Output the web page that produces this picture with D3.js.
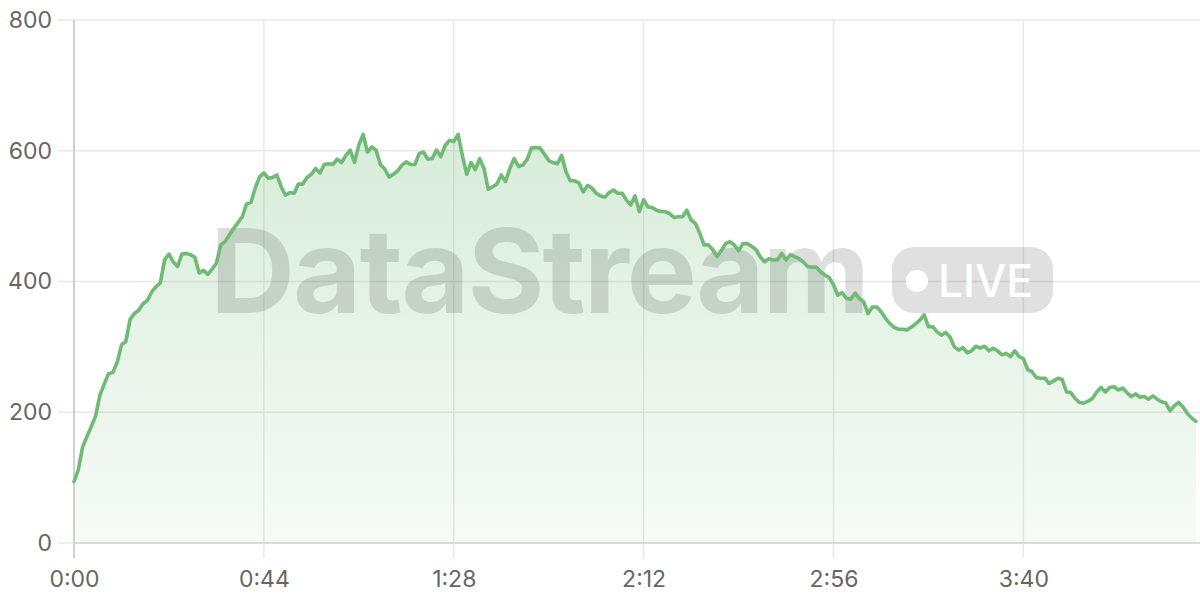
<!DOCTYPE html>
<html>
<head>
<meta charset="utf-8">
<script src="https://cdn.jsdelivr.net/npm/d3@7"></script>
<style>
  body { margin: 0; background: #fff; }
  svg { display: block; font-family: Inter, "Noto Sans", sans-serif; }
</style>
</head>
<body>
<div id="chart"></div>
<script>
// one reading per second, 0:00 .. 4:20
const values = [
  94, 112, 147, 163, 178, 194, 226, 243, 259, 261,
  276, 303, 308, 342, 351, 356, 366, 371, 384, 392,
  398, 433, 442, 430, 423, 442, 443, 441, 437, 413,
  417, 411, 419, 428, 456, 461, 471, 481, 490, 499,
  519, 521, 543, 560, 566, 558, 559, 563, 545, 532,
  536, 535, 549, 549, 559, 564, 573, 566, 579, 580,
  579, 587, 582, 593, 601, 582, 609, 625, 598, 606,
  601, 579, 572, 560, 564, 569, 578, 583, 579, 579,
  596, 598, 587, 588, 601, 591, 608, 616, 614, 625,
  593, 564, 582, 571, 588, 573, 541, 545, 549, 563,
  553, 573, 588, 576, 578, 587, 604, 605, 604, 595,
  585, 582, 580, 593, 568, 554, 554, 551, 537, 547,
  543, 535, 531, 529, 536, 540, 535, 535, 525, 517,
  531, 507, 525, 514, 513, 509, 507, 507, 504, 498,
  499, 499, 509, 494, 489, 474, 456, 456, 449, 438,
  447, 458, 461, 456, 447, 458, 458, 454, 449, 438,
  430, 435, 433, 433, 443, 433, 441, 438, 435, 430,
  423, 422, 422, 415, 410, 406, 395, 379, 383, 374,
  373, 382, 374, 369, 351, 361, 361, 354, 344, 336,
  330, 327, 327, 326, 330, 335, 341, 349, 331, 331,
  323, 318, 322, 315, 300, 295, 299, 291, 294, 301,
  298, 301, 294, 298, 294, 288, 290, 285, 294, 285,
  282, 265, 262, 253, 252, 252, 244, 248, 252, 250,
  231, 230, 221, 215, 214, 217, 221, 231, 238, 231,
  238, 239, 234, 237, 230, 224, 228, 223, 224, 220,
  225, 220, 216, 214, 202, 210, 215, 208, 198, 191,
  186
];
const xTicks = [0, 44, 88, 132, 176, 220];
const xTickLabels = ["0:00", "0:44", "1:28", "2:12", "2:56", "3:40"];
const yTicks = [0, 200, 400, 600, 800];

const width = 1200, height = 600;
const plotLeft = 74, plotRight = 1196, plotTop = 20, plotBottom = 543;

const svg = d3.select("#chart")
  .append("svg")
  .attr("width", width)
  .attr("height", height);

const x = d3.scaleLinear().domain([0, values.length - 1]).range([plotLeft, plotRight]);
const y = d3.scaleLinear().domain([0, 800]).range([plotBottom, plotTop]);

// gradient under the line
const grad = svg.append("defs").append("linearGradient")
  .attr("id", "fillGrad")
  .attr("gradientUnits", "userSpaceOnUse")
  .attr("x1", 0).attr("x2", 0)
  .attr("y1", y(620)).attr("y2", plotBottom);
grad.append("stop").attr("offset", 0).attr("stop-color", "#6dba73").attr("stop-opacity", 0.27);
grad.append("stop").attr("offset", 1).attr("stop-color", "#6dba73").attr("stop-opacity", 0.06);

// grid
svg.append("g")
  .selectAll("line")
  .data(yTicks)
  .enter()
  .append("line")
  .attr("x1", plotLeft - 16).attr("x2", width)
  .attr("y1", d => y(d)).attr("y2", d => y(d))
  .attr("stroke", "#e8e8e8")
  .attr("stroke-width", 1.5);

svg.append("g")
  .selectAll("line")
  .data(xTicks.slice(1))
  .enter()
  .append("line")
  .attr("x1", d => x(d)).attr("x2", d => x(d))
  .attr("y1", plotTop).attr("y2", plotBottom + 15)
  .attr("stroke", "#e8e8e8")
  .attr("stroke-width", 1.5);

// area
const pts = values.map((v, i) => [i, v]);

svg.append("path")
  .datum(pts)
  .attr("fill", "url(#fillGrad)")
  .attr("d", d3.area().x(d => x(d[0])).y0(plotBottom).y1(d => y(d[1])));

// axis lines
svg.append("line")
  .attr("x1", plotLeft).attr("x2", width)
  .attr("y1", plotBottom).attr("y2", plotBottom)
  .attr("stroke", "#d3d6d3")
  .attr("stroke-width", 1.5);
svg.append("line")
  .attr("x1", plotLeft).attr("x2", plotLeft)
  .attr("y1", plotTop).attr("y2", plotBottom + 15)
  .attr("stroke", "#d0d0d0")
  .attr("stroke-width", 2);

// watermark (between fill and line)
const wm = svg.append("g").attr("pointer-events", "none");
wm.append("text")
  .attr("x", 210).attr("y", 313)
  .attr("textLength", 658)
  .attr("lengthAdjust", "spacingAndGlyphs")
  .attr("fill", "rgba(0,0,0,0.13)")
  .style("font-size", "117px")
  .style("font-weight", 700)
  .style("letter-spacing", "-2px")
  .text("DataStream");
wm.append("rect")
  .attr("x", 892).attr("y", 247)
  .attr("width", 161).attr("height", 66)
  .attr("rx", 22)
  .attr("fill", "rgba(0,0,0,0.12)");
wm.append("circle")
  .attr("cx", 917).attr("cy", 281).attr("r", 11)
  .attr("fill", "#fff");
wm.append("text")
  .attr("x", 938).attr("y", 297)
  .attr("textLength", 95)
  .attr("lengthAdjust", "spacingAndGlyphs")
  .attr("fill", "#fff")
  .style("font-size", "45px")
  .style("font-weight", 500)
  .text("LIVE");

// line
svg.append("path")
  .datum(pts)
  .attr("fill", "none")
  .attr("stroke", "#6fba74")
  .attr("stroke-width", 3.6)
  .attr("stroke-linejoin", "round")
  .attr("stroke-linecap", "round")
  .attr("d", d3.line().x(d => x(d[0])).y(d => y(d[1])));

// axes (labels only)
const yAxis = svg.append("g")
  .attr("transform", `translate(${plotLeft},0)`)
  .call(d3.axisLeft(y).tickValues(yTicks).tickSize(0).tickPadding(22));
const xAxis = svg.append("g")
  .attr("transform", `translate(0,${plotBottom})`)
  .call(d3.axisBottom(x).tickValues(xTicks).tickSize(0).tickPadding(37)
    .tickFormat((d, i) => xTickLabels[i]));

[yAxis, xAxis].forEach(g => {
  g.select(".domain").remove();
  g.selectAll("text")
    .attr("fill", "#666")
    .style("font-size", "23px")
    .style("font-family", "Inter, 'Noto Sans', sans-serif");
});
xAxis.selectAll("text").attr("dy", "0.32em");
</script>
</body>
</html>
